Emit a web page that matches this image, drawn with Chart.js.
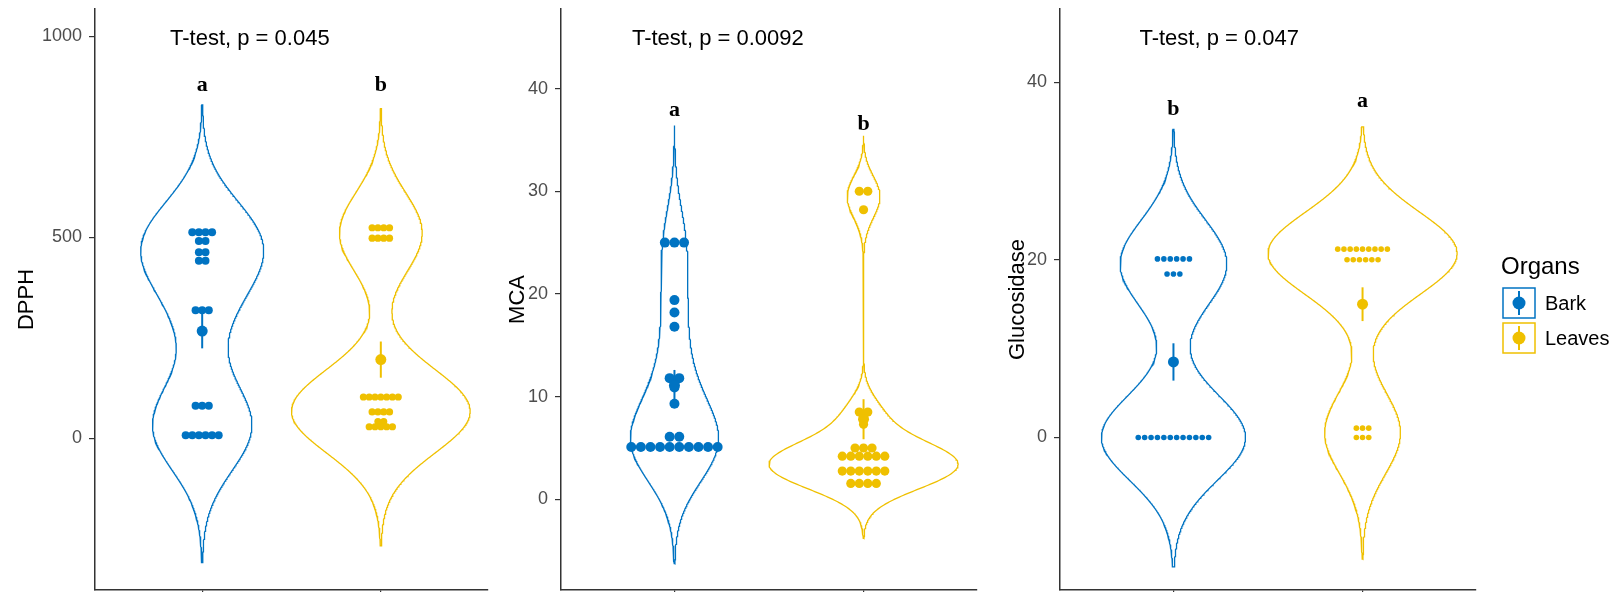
<!DOCTYPE html>
<html>
<head>
<meta charset="utf-8">
<script src="https://cdn.jsdelivr.net/npm/chart.js@4.4.1/dist/chart.umd.min.js"></script>
<style>
  html, body { margin: 0; padding: 0; background: #fff; }
  #wrap { position: relative; width: 1619px; height: 592px; overflow: hidden; }
  canvas { position: absolute; top: 0; }
</style>
</head>
<body>
<div id="wrap">
  <canvas id="c1" width="490" height="592" style="left:0px"></canvas>
  <canvas id="c2" width="495" height="592" style="left:490px"></canvas>
  <canvas id="c3" width="634" height="592" style="left:985px"></canvas>
</div>
<script>
// groups and colours
const organs = ['Bark', 'Leaves'];
const organColors = ['#0073C2', '#EFC000'];

// individual values (one entry per dot)
const dpphBark = [513, 513, 513, 513, 491, 491, 463, 463, 442, 442, 319, 319, 319, 81, 81, 81, 7.7, 7.7, 7.7, 7.7, 7.7, 7.7];
const dpphLeaves = [524, 524, 524, 524, 498, 498, 498, 498, 103, 103, 103, 103, 103, 103, 103, 66, 66, 66, 66, 42, 42, 29, 29, 29, 29, 29];
const mcaBark = [25, 25, 25, 19.4, 18.2, 16.8, 11.8, 11.8, 10.9, 9.3, 6.1, 6.1, 5.1, 5.1, 5.1, 5.1, 5.1, 5.1, 5.1, 5.1, 5.1, 5.1];
const mcaLeaves = [30, 30, 28.2, 8.5, 8.5, 7.3, 5.0, 5.0, 5.0, 4.2, 4.2, 4.2, 4.2, 4.2, 4.2, 2.75, 2.75, 2.75, 2.75, 2.75, 2.75, 1.55, 1.55, 1.55, 1.55];
const glucBark = [20.1, 20.1, 20.1, 20.1, 20.1, 20.1, 18.4, 18.4, 18.4, 0, 0, 0, 0, 0, 0, 0, 0, 0, 0, 0, 0];
const glucLeaves = [21.2, 21.2, 21.2, 21.2, 21.2, 21.2, 21.2, 21.2, 21.2, 20.0, 20.0, 20.0, 20.0, 20.0, 20.0, 1.05, 1.05, 1.05, 0, 0, 0];

// mean and standard error per group
const dpphMean = [267, 196];
const dpphSe = [43, 45];
const mcaMean = [11.1, 7.8];
const mcaSe = [1.5, 1.95];
const glucMean = [8.5, 15.0];
const glucSe = [2.1, 1.9];

// texts and ticks
const pLabels = ['T-test, p = 0.045', 'T-test, p = 0.0092', 'T-test, p = 0.047'];
const groupLetters = [['a', 'b'], ['a', 'b'], ['b', 'a']];
const yTitles = ['DPPH', 'MCA', 'Glucosidase'];
const dpphTicks = [0, 500, 1000];
const mcaTicks = [0, 10, 20, 30, 40];
const glucTicks = [0, 20, 40];
const legendTitle = 'Organs';

const sans = "'Liberation Sans', Arial, sans-serif";
const serif = "'Liberation Serif', 'Times New Roman', serif";

// layout of each panel
const panels = [
  { id: 'c1', groups: [dpphBark, dpphLeaves], mean: dpphMean, se: dpphSe, ticks: dpphTicks,
    yMin: -377, yMax: 1068, axisW: 95, padRight: 2, titlePad: 13.8, bw: [null, null],
    labelX: 0.82, labelY: 979.6, letterY: [864.6, 864.6], dotR: [4, 3.6], dotGap: [6.6, 5.8] },
  { id: 'c2', groups: [mcaBark, mcaLeaves], mean: mcaMean, se: mcaSe, ticks: mcaTicks,
    yMin: -8.83, yMax: 47.75, axisW: 71, padRight: 8, titlePad: 14.8, bw: [3.8, 1.8],
    labelX: 0.775, labelY: 44.2, letterY: [37.3, 35.95], dotR: [5, 4.6], dotGap: [9.6, 8.5] },
  { id: 'c3', groups: [glucBark, glucLeaves], mean: glucMean, se: glucSe, ticks: glucTicks,
    yMin: -17.17, yMax: 48.23, axisW: 75, padRight: 143, titlePad: 19.8, bw: [null, null],
    labelX: 0.82, labelY: 44.23, letterY: [36.33, 37.23], dotR: [2.8, 2.8], dotGap: [6.4, 6.2], legend: true }
];

function quantile(s, p) {
  const h = (s.length - 1) * p;
  const lo = Math.floor(h);
  const hi = Math.min(lo + 1, s.length - 1);
  return s[lo] + (h - lo) * (s[hi] - s[lo]);
}

// R's bw.nrd0
function bwNrd0(v) {
  const n = v.length;
  const m = v.reduce((a, b) => a + b, 0) / n;
  const sd = Math.sqrt(v.reduce((a, b) => a + (b - m) * (b - m), 0) / (n - 1));
  const s = [...v].sort((a, b) => a - b);
  let lo = Math.min(sd, (quantile(s, 0.75) - quantile(s, 0.25)) / 1.34);
  if (!lo) lo = sd || Math.abs(s[0]) || 1;
  return 0.9 * lo * Math.pow(n, -0.2);
}

// gaussian kernel density, trim = FALSE (cut = 3)
function density(v, bwSet) {
  const bw = bwSet || bwNrd0(v);
  const lo = Math.min(...v) - 3 * bw, hi = Math.max(...v) + 3 * bw;
  const out = [];
  for (let i = 0; i < 512; i++) {
    const y = lo + (hi - lo) * i / 511;
    let d = 0;
    for (const x of v) {
      const z = (y - x) / bw;
      d += Math.exp(-0.5 * z * z);
    }
    out.push({ y: y, d: d / (v.length * bw * Math.sqrt(2 * Math.PI)) });
  }
  return out;
}

function buildDatasets(p) {
  const sets = [];
  const dens = p.groups.map((v, g) => density(v, p.bw[g]));
  const maxD = Math.max(...dens.map(ds => Math.max(...ds.map(q => q.d))));
  const unitPx = (p.width - p.axisW - p.padRight) / 2.2;
  p.groups.forEach((vals, g) => {
    const c = g + 1;
    const col = organColors[g];
    // violin outline (width = 1, scale = "area")
    const right = dens[g].map(q => ({ x: c + 0.5 * q.d / maxD, y: q.y }));
    const left = dens[g].map(q => ({ x: c - 0.5 * q.d / maxD, y: q.y })).reverse();
    const outline = right.concat(left);
    outline.push(right[0]);
    sets.push({ label: organs[g] + ' violin', data: outline, showLine: true, borderColor: col,
      borderWidth: 1.3, pointRadius: 0, fill: false, order: 3 });
    // dot plot, centred stacks
    const counts = new Map();
    vals.forEach(v => counts.set(v, (counts.get(v) || 0) + 1));
    const dots = [];
    const gap = p.dotGap[g] / unitPx;
    counts.forEach((n, v) => {
      for (let i = 0; i < n; i++) dots.push({ x: c + (i - (n - 1) / 2) * gap, y: v });
    });
    sets.push({ label: organs[g] + ' dots', data: dots, pointRadius: p.dotR[g], pointBackgroundColor: col,
      pointBorderWidth: 0, order: 2 });
    // mean +/- se
    sets.push({ label: organs[g] + ' se', data: [{ x: c, y: p.mean[g] - p.se[g] }, { x: c, y: p.mean[g] + p.se[g] }],
      showLine: true, borderColor: col, borderWidth: 2, pointRadius: 0, order: 1 });
    sets.push({ label: organs[g] + ' mean', data: [{ x: c, y: p.mean[g] }], pointRadius: 5.5,
      pointBackgroundColor: col, pointBorderWidth: 0, order: 0 });
  });
  return sets;
}

const textPlugin = {
  id: 'panelText',
  afterDatasetsDraw(chart) {
    const p = chart.config.options.panel;
    const { ctx, scales } = chart;
    ctx.save();
    ctx.fillStyle = '#000';
    ctx.font = '22px ' + sans;
    ctx.textAlign = 'left';
    ctx.textBaseline = 'alphabetic';
    ctx.fillText(pLabels[p.index], scales.x.getPixelForValue(p.labelX), scales.y.getPixelForValue(p.labelY));
    ctx.font = 'bold 22px ' + serif;
    ctx.textAlign = 'center';
    groupLetters[p.index].forEach((t, g) => {
      ctx.fillText(t, scales.x.getPixelForValue(g + 1), scales.y.getPixelForValue(p.letterY[g]));
    });
    if (p.legend) {
      const lx = 518;
      ctx.textAlign = 'left';
      ctx.textBaseline = 'middle';
      ctx.font = '24px ' + sans;
      ctx.fillText(legendTitle, lx - 2, 267);
      organs.forEach((name, g) => {
        const top = 288 + g * 35;
        ctx.strokeStyle = organColors[g];
        ctx.lineWidth = 1.5;
        ctx.strokeRect(lx, top, 32, 30);
        ctx.beginPath();
        ctx.moveTo(lx + 16, top + 3);
        ctx.lineTo(lx + 16, top + 27);
        ctx.lineWidth = 2;
        ctx.stroke();
        ctx.fillStyle = organColors[g];
        ctx.beginPath();
        ctx.arc(lx + 16, top + 15, 6.5, 0, Math.PI * 2);
        ctx.fill();
        ctx.fillStyle = '#000';
        ctx.font = '20px ' + sans;
        ctx.fillText(name, lx + 42, top + 16);
      });
    }
    ctx.restore();
  }
};

panels.forEach((p, i) => {
  p.index = i;
  const canvas = document.getElementById(p.id);
  p.width = canvas.width;
  new Chart(canvas.getContext('2d'), {
    type: 'scatter',
    data: { datasets: buildDatasets(p) },
    options: {
      panel: p,
      responsive: false,
      animation: false,
      layout: { autoPadding: false, padding: { top: 9, right: p.padRight, left: 0, bottom: 0 } },
      plugins: { legend: { display: false }, tooltip: { enabled: false } },
      scales: {
        x: {
          type: 'linear', min: 0.4, max: 2.6,
          afterBuildTicks: s => { s.ticks = [{ value: 1 }, { value: 2 }]; },
          afterFit: s => { s.height = 2; s.paddingLeft = 0; s.paddingRight = 0; },
          ticks: { callback: () => '' },
          grid: { drawOnChartArea: false, color: '#333', tickLength: 6, lineWidth: 1.2 },
          border: { color: '#333', width: 1.5 }
        },
        y: {
          type: 'linear', min: p.yMin, max: p.yMax,
          afterBuildTicks: s => { s.ticks = p.ticks.map(v => ({ value: v })); },
          afterFit: s => { s.width = p.axisW; s.paddingTop = 0; s.paddingBottom = 0; },
          ticks: { font: { family: sans, size: 18 }, color: '#4D4D4D', padding: 7, callback: v => String(v) },
          grid: { drawOnChartArea: false, color: '#333', tickLength: 6, lineWidth: 1.2 },
          border: { color: '#333', width: 1.5 },
          title: { display: true, text: yTitles[i], color: '#000', font: { family: sans, size: 22 },
            padding: { top: p.titlePad, bottom: 0 } }
        }
      }
    },
    plugins: [textPlugin]
  });
});
</script>
</body>
</html>
